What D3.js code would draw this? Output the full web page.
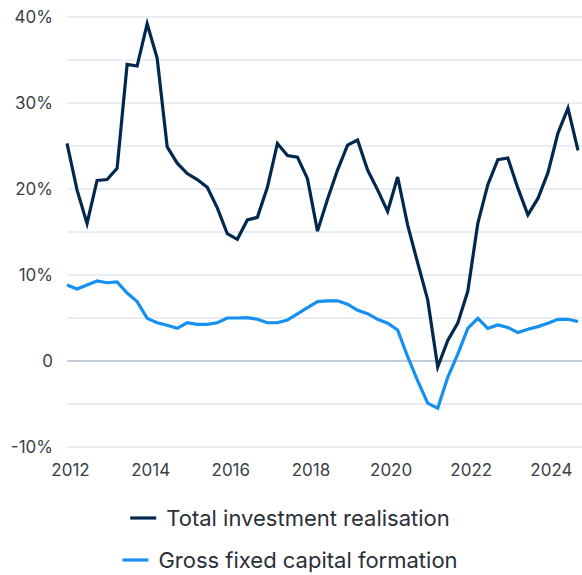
<!DOCTYPE html>
<html>
<head>
<meta charset="utf-8">
<script src="https://cdn.jsdelivr.net/npm/d3@7"></script>
<style>
  html, body { margin: 0; padding: 0; background: #fff; }
  svg { display: block; font-family: Inter, "Noto Sans", sans-serif; }
</style>
</head>
<body>
<div id="chart"></div>
<script>
// quarterly data, 2012 Q1 .. 2024 Q4 (year-on-year %)
const quarters = d3.range(52).map(i => 2012 + Math.floor(i / 4) + (i % 4) / 4);

const totalInvestment = [
    25.3, 19.9, 16.0, 21.0, 21.1, 22.4, 34.5, 34.3,
    39.2, 35.2, 24.9, 23.0, 21.8, 21.1, 20.2, 17.8,
    14.8, 14.15, 16.4, 16.7, 20.2, 25.3, 23.9, 23.7,
    21.2, 15.1, 18.8, 22.2, 25.1, 25.7, 22.2, 19.9,
    17.4, 21.4, 15.8, 11.4, 7.1, -0.7, 2.4, 4.4,
    8.1, 16.0, 20.5, 23.4, 23.6, 20.1, 17.0, 18.9,
    21.9, 26.5, 29.4, 24.5
];

const grossFixedCapital = [
    8.84, 8.37, 8.84, 9.3, 9.1, 9.2, 7.9, 6.9,
    4.96, 4.45, 4.15, 3.8, 4.45, 4.26, 4.26, 4.45,
    5.0, 5.0, 5.05, 4.85, 4.45, 4.45, 4.77, 5.47,
    6.2, 6.9, 7.0, 7.0, 6.6, 5.9, 5.5, 4.85,
    4.4, 3.6, 0.5, -2.3, -4.9, -5.5, -1.9, 0.8,
    3.8, 4.96, 3.8, 4.2, 3.9, 3.3, 3.7, 4.0,
    4.4, 4.85, 4.85, 4.6
];

const series = [
    { name: "Total investment realisation", values: totalInvestment, color: "#03284e" },
    { name: "Gross fixed capital formation", values: grossFixedCapital, color: "#1590f0" }
];

const yearTicks = [2012, 2014, 2016, 2018, 2020, 2022, 2024];
const gridValues = [-10, -5, 0, 5, 10, 15, 20, 25, 30, 35, 40];
const labelValues = [-10, 0, 10, 20, 30, 40];

const width = 582, height = 575;

const svg = d3.select("#chart").append("svg")
    .attr("width", width)
    .attr("height", height);

const x = d3.scaleLinear()
    .domain([2012, 2024.75])
    .range([67, 578]);

const y = d3.scaleLinear()
    .domain([-10, 40])
    .range([447, 17]);

// grid
svg.append("g")
    .selectAll("line")
    .data(gridValues)
    .join("line")
    .attr("x1", 67)
    .attr("x2", width)
    .attr("y1", d => y(d))
    .attr("y2", d => y(d))
    .attr("stroke", d => d === 0 ? "#c3cbd5" : "#e3e9f1")
    .attr("stroke-width", d => d === 0 ? 2 : 1.6);

// y labels
svg.append("g")
    .selectAll("text")
    .data(labelValues)
    .join("text")
    .attr("x", 53)
    .attr("y", d => y(d))
    .attr("dy", "0.36em")
    .attr("text-anchor", "end")
    .attr("fill", "#3b3f47")
    .style("font-size", "17px")
    .text(d => d === 0 ? "0" : d + "%");

// x labels
svg.append("g")
    .selectAll("text")
    .data(yearTicks)
    .join("text")
    .attr("x", d => x(d) + 3.5)
    .attr("y", 476)
    .attr("text-anchor", "middle")
    .attr("fill", "#3b3f47")
    .style("font-size", "17px")
    .text(d => d);

// lines
const line = d3.line()
    .x((d, i) => x(quarters[i]))
    .y(d => y(d));

svg.append("g")
    .selectAll("path")
    .data(series.slice().reverse())
    .join("path")
    .attr("d", d => line(d.values))
    .attr("fill", "none")
    .attr("stroke", d => d.color)
    .attr("stroke-width", 3.2)
    .attr("stroke-linejoin", "miter")
    .attr("stroke-linecap", "butt");

// legend, centred under the plot
const legendRows = [518, 560];
const legend = svg.append("g")
    .selectAll("g")
    .data(series)
    .join("g");

legend.append("text")
    .attr("class", "legend-label")
    .attr("y", (d, i) => legendRows[i])
    .attr("dy", "0.35em")
    .attr("fill", "#2b2f38")
    .style("font-size", "22px")
    .text(d => d.name);

legend.each(function(d, i) {
    const g = d3.select(this);
    const textW = g.select("text").node().getComputedTextLength();
    const total = 26 + 10 + textW;
    const left = 290 - total / 2;
    g.append("line")
        .attr("x1", left)
        .attr("x2", left + 26)
        .attr("y1", legendRows[i])
        .attr("y2", legendRows[i])
        .attr("stroke", d.color)
        .attr("stroke-width", 3.2);
    g.select("text").attr("x", left + 36);
});
</script>
</body>
</html>
